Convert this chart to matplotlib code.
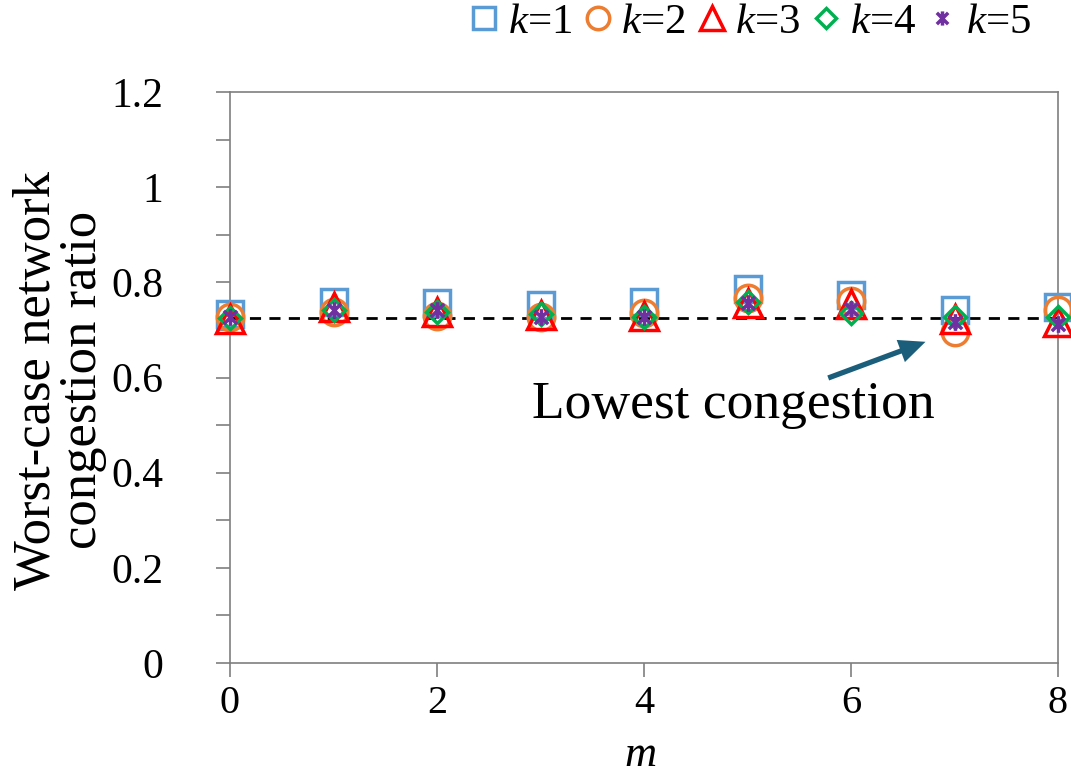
import matplotlib
matplotlib.use("Agg")
import matplotlib.pyplot as plt
from matplotlib.path import Path
import numpy as np

plt.rcParams['font.family'] = ['Liberation Serif', 'DejaVu Serif']
plt.rcParams['mathtext.fontset'] = 'custom'
plt.rcParams['mathtext.it'] = 'Liberation Serif:italic'
plt.rcParams['mathtext.rm'] = 'Liberation Serif'

m_values = [0, 1, 2, 3, 4, 5, 6, 7, 8]
k1 = [0.733, 0.758, 0.756, 0.752, 0.759, 0.786, 0.773, 0.742, 0.748]
k2 = [0.728, 0.737, 0.729, 0.728, 0.735, 0.768, 0.761, 0.695, 0.742]
k3 = [0.722, 0.748, 0.738, 0.731, 0.729, 0.757, 0.754, 0.722, 0.716]
k4 = [0.726, 0.742, 0.738, 0.733, 0.728, 0.758, 0.735, 0.727, 0.727]
k5 = [0.728, 0.742, 0.742, 0.728, 0.728, 0.756, 0.745, 0.716, 0.712]
baseline = 0.725
series_labels = ['$k$=1', '$k$=2', '$k$=3', '$k$=4', '$k$=5']
x_ticks = [0, 2, 4, 6, 8]
y_ticks = [0, 0.2, 0.4, 0.6, 0.8, 1.0, 1.2]
y_ticklabels = ['0', '0.2', '0.4', '0.6', '0.8', '1', '1.2']

star = Path([(-1, -1), (1, 1), (-1, 1), (1, -1), (0, -1.25), (0, 1.25)],
            [Path.MOVETO, Path.LINETO, Path.MOVETO, Path.LINETO, Path.MOVETO, Path.LINETO])

styles = [
    dict(marker='s', ms=19, mec='#5B9BD5'),
    dict(marker='o', ms=19, mec='#ED7D31'),
    dict(marker='^', ms=20, mec='#FF0000'),
    dict(marker='D', ms=11.5, mec='#00B050'),
    dict(marker=star, ms=12, mec='#7030A0'),
]

fig = plt.figure(figsize=(10.71, 7.78), dpi=100)
ax = fig.add_axes([230/1071, 1-663/778, 828/1071, 571/778])

ax.axhline(baseline, color='black', lw=2.0, ls=(0, (4, 3)), zorder=1)

for vals, st, lab in zip([k1, k2, k3, k4, k5], styles, series_labels):
    ax.plot(m_values, vals, ls='none', marker=st['marker'], ms=st['ms'],
            mfc='none', mec=st['mec'], mew=2.5, label=lab, clip_on=False, zorder=3)

ax.set_xlim(0, 8)
ax.set_ylim(0, 1.2)
ax.set_xticks(x_ticks)
ax.set_yticks(y_ticks)
ax.set_yticklabels(y_ticklabels)
ax.set_yticks(np.arange(0.1, 1.2, 0.2), minor=True)
ax.tick_params(axis='both', which='major', labelsize=30, direction='out', color='#7F7F7F', width=1.2)
ax.tick_params(axis='y', which='major', length=10, pad=38)
ax.tick_params(axis='y', which='minor', length=10, color='#7F7F7F', width=1.2)
ax.tick_params(axis='x', which='major', length=10, pad=6, labelsize=29)
for sp in ax.spines.values():
    sp.set_color('#7F7F7F')
    sp.set_linewidth(1.2)

fig.text(640/1071, 1-755/778, '$m$', fontsize=32, ha='center', va='center')
fig.text(60/1071, 1-380/778, 'Worst-case network\ncongestion ratio', fontsize=38,
         rotation=90, ha='center', va='center', linespacing=0.95)

ax.annotate('', xy=(6.72, 0.675), xytext=(5.78, 0.599),
            arrowprops=dict(width=3.8, headwidth=17, headlength=19, color='#1B5E7B', lw=0))
ax.text(4.86, 0.543, 'Lowest congestion', fontsize=38.5, ha='center', va='center')

leg = fig.legend(loc='center', bbox_to_anchor=(751/1071, 1-22/778), ncol=5, frameon=False,
                 fontsize=31, markerscale=0.85, handlelength=0.6, handletextpad=0.25,
                 columnspacing=0.3, borderpad=0)

fig.savefig('out.png', dpi=100)
